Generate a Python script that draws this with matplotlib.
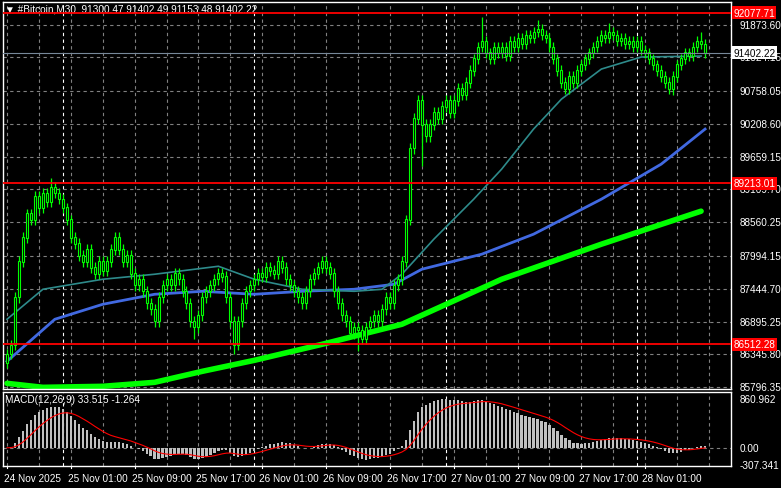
import numpy as np
import pandas as pd
import matplotlib
matplotlib.use("Agg")
import matplotlib.pyplot as plt

plt.rcParams["font.family"] = ["Liberation Sans", "DejaVu Sans"]

# -----------------------------------------------------------------------------
# Data (M30 bars, bar 0 = 24 Nov 2025 17:00)
# -----------------------------------------------------------------------------

closes = [
    86350, 86500, 87300, 87900, 88300, 88700, 88600, 89000, 88800, 89050,
    88900, 89150, 89050, 88950, 88800, 88600, 88300, 88200, 88000, 87900,
    88100, 87800, 87700, 87900, 87750, 87900, 88100, 88300, 88100, 87900,
    88000, 87700, 87500, 87600, 87400, 87200, 87100, 86900, 87300, 87500,
    87600, 87500, 87700, 87600, 87400, 87200, 86900, 86800, 87000, 87300,
    87400, 87500, 87600, 87700, 87650, 87300, 86900, 86500, 86900, 87200,
    87400, 87500, 87600, 87700, 87650, 87800, 87750, 87700, 87900, 87800,
    87600, 87500, 87400, 87300, 87200, 87400, 87600, 87700, 87800, 87900,
    87800, 87700, 87400, 87200, 87000, 86900, 86700, 86800, 86750, 86600,
    86800, 86900, 87000, 86900, 87100, 87300, 87200, 87500, 87600, 87900,
    88600, 89800, 90300, 90600, 90200, 90000, 90200, 90400, 90300, 90500,
    90600, 90400, 90600, 90800, 90700, 90900, 91100, 91300, 91500, 91600,
    91400, 91300, 91500, 91400, 91500, 91350, 91600, 91500, 91650, 91550,
    91700, 91650, 91750, 91800, 91700, 91650, 91500, 91300, 91100, 90900,
    90800, 91000, 90900, 91100, 91200, 91300, 91400, 91500, 91600, 91700,
    91650, 91750, 91700, 91600, 91650, 91550, 91600, 91500, 91600, 91450,
    91400, 91300, 91200, 91100, 91000, 90900, 90800, 91000, 91200, 91300,
    91400, 91350, 91500, 91600, 91550, 91402.22,
]
first_open = 86200
wick = 90
spike_lows = {47: 86600, 57: 86350, 88: 86400, 104: 89500, 167: 90700}
spike_highs = {11: 89300, 119: 92000, 133: 91950, 151: 91900, 174: 91750}

# moving averages: (bar index, value)
ma_green_idx = [0, 9, 24, 37, 49, 62, 79, 99, 124, 149, 174]
ma_green_val = [85858, 85791, 85808, 85875, 86060, 86244, 86513, 86849, 87604, 88192, 88746]
ma_blue_idx = [0, 12, 24, 37, 49, 62, 74, 87, 97, 104, 119, 132, 149, 164, 175]
ma_blue_val = [86227, 86933, 87184, 87352, 87402, 87352, 87402, 87436, 87520, 87772,
               88024, 88360, 88947, 89535, 90123]
ma_teal_idx = [0, 9, 24, 37, 53, 62, 74, 87, 94, 99, 107, 117, 124, 132, 139, 149, 159, 174]
ma_teal_val = [86933, 87436, 87604, 87688, 87822, 87604, 87436, 87402, 87436, 87688,
               88276, 88947, 89451, 90123, 90626, 91130, 91332, 91348]

red_levels = [92077.71, 89213.01, 86512.28]
bid = 91402.22
price_ticks = [91873.60, 91324.15, 90758.05, 90208.60, 89659.15, 89109.70,
               88560.25, 87994.15, 87444.70, 86895.25, 86345.80, 85796.35]
date_labels = ["24 Nov 2025", "25 Nov 01:00", "25 Nov 09:00", "25 Nov 17:00",
               "26 Nov 01:00", "26 Nov 09:00", "26 Nov 17:00", "27 Nov 01:00",
               "27 Nov 09:00", "27 Nov 17:00", "28 Nov 01:00"]
day_starts = [14, 62, 110, 158]

# -----------------------------------------------------------------------------
# Derived series
# -----------------------------------------------------------------------------

n = len(closes)
c = np.array(closes, dtype=float)
o = np.concatenate([[first_open], c[:-1]])
h = np.maximum(o, c) + wick
l = np.minimum(o, c) - wick
for k, v in spike_lows.items():
    l[k] = v
for k, v in spike_highs.items():
    h[k] = v

s = pd.Series(c)
macd = s.ewm(span=12, adjust=False).mean() - s.ewm(span=26, adjust=False).mean()
signal = macd.ewm(span=9, adjust=False).mean()

# -----------------------------------------------------------------------------
# Plot
# -----------------------------------------------------------------------------

W, H = 781, 489
fs = 7.2
fig = plt.figure(figsize=(W / 100, H / 100), dpi=100, facecolor="black")
x0, x1 = 3 / W, 731 / W
ax = fig.add_axes([x0, 1 - 390 / H, x1 - x0, 387 / H], facecolor="black")
axm = fig.add_axes([x0, 1 - 467 / H, x1 - x0, 74 / H], facecolor="black")

xlim = (-1, 181.5)
grid_x = np.arange(0, 182, 8)

for a in (ax, axm):
    a.set_xlim(*xlim)
    for sp in a.spines.values():
        sp.set_color("white")
        sp.set_linewidth(1)
    a.tick_params(left=False, right=False, bottom=False, labelleft=False,
                  labelbottom=False)
    for gx in grid_x:
        if gx not in day_starts:
            a.axvline(gx, color="#808080", ls=(0, (3, 3)), lw=0.8, zorder=0)
    for d in day_starts:
        a.axvline(d, color="white", ls=(0, (3, 3)), lw=0.8, zorder=0)

ax.set_ylim(85763, 92255)
for p in price_ticks:
    ax.axhline(p, color="#808080", ls=(0, (3, 3)), lw=0.8, zorder=0)

# moving averages
ax.plot(ma_green_idx, ma_green_val, color="#00ff00", lw=4, zorder=2, solid_capstyle="round")
ax.plot(ma_blue_idx, ma_blue_val, color="#4169e1", lw=2, zorder=2)
ax.plot(ma_teal_idx, ma_teal_val, color="#2e8b8b", lw=1.2, zorder=2)

# candles
idx = np.arange(n)
ax.vlines(idx, l, h, color="#00ff00", lw=0.9, zorder=3)
ax.bar(idx, np.abs(c - o) + 8, bottom=np.minimum(o, c), width=0.5,
       color="black", edgecolor="#00ff00", lw=0.8, zorder=4)

# levels and right scale
ytr = ax.get_yaxis_transform()
for p in price_ticks:
    ax.text(1.012, p, f"{p:.2f}", transform=ytr, va="center",
            ha="left", color="white", fontsize=fs, clip_on=False, zorder=1)
for lv in red_levels:
    ax.axhline(lv, color="red", lw=1.3, zorder=5)
    ax.text(1.003, lv, f"{lv:.2f}", transform=ytr, va="center",
            ha="left", color="white", fontsize=fs, zorder=10,
            bbox=dict(boxstyle="square,pad=0.15", fc="red", ec="none"), clip_on=False)
ax.axhline(bid, color="#778899", lw=0.8, zorder=5)
ax.text(1.003, bid, f"{bid:.2f}", transform=ytr, va="center",
        ha="left", color="black", fontsize=fs, zorder=10,
        bbox=dict(boxstyle="square,pad=0.15", fc="white", ec="none"), clip_on=False)

ax.text(0.003, 0.997, "\u25bc #Bitcoin,M30  91300.47 91402.49 91153.48 91402.22",
        transform=ax.transAxes, ha="left", va="top", color="white", fontsize=fs, zorder=1)

# MACD
axm.set_ylim(-322, 986)
axm.bar(idx, macd, width=0.55, color="#c0c0c0", zorder=2)
axm.plot(idx, signal, color="red", lw=0.8, zorder=3)
axm.axhline(0, color="#808080", ls=(0, (3, 3)), lw=0.8, zorder=0)
axm.text(0.003, 0.97, f"MACD(12,26,9) {macd.iloc[-1]:.3f} {signal.iloc[-1]:.3f}",
         transform=axm.transAxes, ha="left", va="top", color="white", fontsize=fs)
for v, t in [(860.962, "860.962"), (0.0, "0.00"), (-307.341, "-307.341")]:
    axm.text(1.012, v, t, transform=axm.get_yaxis_transform(), va="center",
             ha="left", color="white", fontsize=fs, clip_on=False)

# date labels
for k, lab in enumerate(date_labels):
    xb = 0 if k == 0 else 16 * k
    axm.text(xb - 0.7, -0.1, lab, transform=axm.get_xaxis_transform(), ha="left",
             va="top", color="white", fontsize=fs, clip_on=False)
    axm.plot([xb, xb], [-0.03, 0], transform=axm.get_xaxis_transform(),
             color="white", lw=0.8, clip_on=False)

fig.savefig("out.png", dpi=100, facecolor="black")
